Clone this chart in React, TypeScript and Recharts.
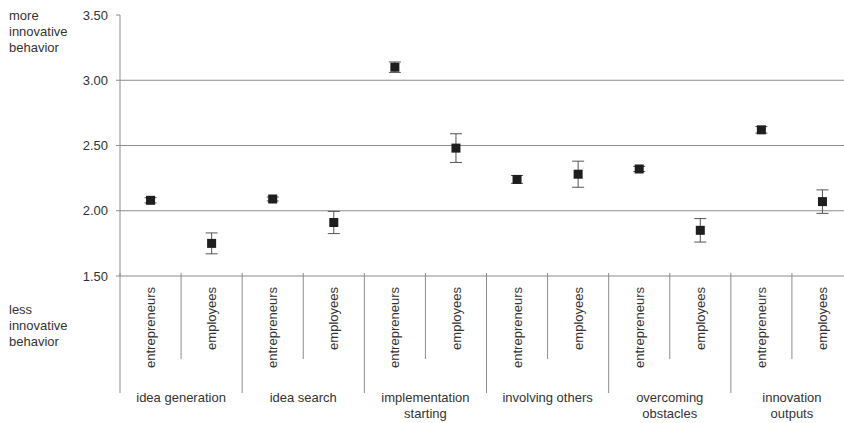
import { ComposedChart, Line, ErrorBar, XAxis, YAxis, ReferenceLine } from 'recharts';

const groups = [
  'idea generation',
  'idea search',
  'implementation\nstarting',
  'involving others',
  'overcoming\nobstacles',
  'innovation\noutputs',
];
const roles = ['entrepreneurs', 'employees'];

// means per group, entrepreneurs then employees
const means = [2.08, 1.75, 2.09, 1.91, 3.1, 2.48, 2.24, 2.28, 2.32, 1.85, 2.62, 2.07];
const errors = [0.02, 0.08, 0.015, 0.085, 0.04, 0.11, 0.03, 0.1, 0.02, 0.09, 0.025, 0.09];

const yTicks = [1.5, 2.0, 2.5, 3.0, 3.5];
const gridValues = [2.0, 2.5, 3.0];

const data = means.map((m, i) => ({
  id: `c${i}`,
  group: groups[Math.floor(i / 2)],
  role: roles[i % 2],
  mean: m,
  err: errors[i],
}));

const FONT = '"Liberation Sans", Arial, Helvetica, sans-serif';
const TEXT = '#333';
const LINE = '#8c8c8c';

const CategoryTick = (props: any) => {
  const { x, y, payload } = props;
  const i = payload.index;
  const half = payload.offset ?? 30.5;
  const left = x - half;
  const d = data[i];
  const first = i % 2 === 0;
  const lines = d.group.split('\n');
  return (
    <g>
      <line x1={left} y1={y - 3} x2={left} y2={y + (first ? 117 : 83)} stroke={LINE} strokeWidth={1} />
      <text
        x={x}
        y={y + 11}
        dy="0.35em"
        transform={`rotate(-90, ${x}, ${y + 11})`}
        textAnchor="end"
        fontSize={13}
        fontFamily={FONT}
        fill={TEXT}
      >
        {d.role}
      </text>
      {!first &&
        lines.map((ln, k) => (
          <text key={k} x={left} y={y + 126 + k * 16} textAnchor="middle" fontSize={13} fontFamily={FONT} fill={TEXT}>
            {ln}
          </text>
        ))}
    </g>
  );
};

const SquareDot = (props: any) => {
  const { cx, cy } = props;
  if (cx == null || cy == null) return null;
  return <rect x={cx - 4.5} y={cy - 4.5} width={9} height={9} fill="#1e1e1e" />;
};

const sideLabel = (top: number, lines: string[]) => (
  <div
    style={{
      position: 'absolute',
      left: 9,
      top,
      fontFamily: FONT,
      fontSize: 13,
      lineHeight: '16px',
      color: TEXT,
    }}
  >
    {lines.map((l) => (
      <div key={l}>{l}</div>
    ))}
  </div>
);

export default function App() {
  return (
    <div
      style={{
        position: 'absolute',
        left: 0,
        top: 0,
        width: 844,
        height: 423,
        overflow: 'hidden',
        background: '#fff',
      }}
    >
      <ComposedChart width={900} height={423} data={data} margin={{ top: 15, right: 47, bottom: 0, left: 0 }}>
        {gridValues.map((v) => (
          <ReferenceLine key={v} y={v} stroke={LINE} strokeWidth={1} />
        ))}
        <XAxis
          dataKey="id"
          type="category"
          scale="band"
          interval={0}
          height={147}
          tickSize={0}
          tickMargin={0}
          tickLine={false}
          axisLine={{ stroke: LINE, strokeWidth: 1 }}
          tick={<CategoryTick />}
        />
        <YAxis
          type="number"
          domain={[1.5, 3.5]}
          ticks={yTicks}
          width={120}
          tickSize={4}
          tickMargin={8}
          tickFormatter={(v: number) => v.toFixed(2)}
          tick={{ fontSize: 13, fontFamily: FONT, fill: TEXT }}
          axisLine={{ stroke: LINE, strokeWidth: 1 }}
          tickLine={{ stroke: LINE, strokeWidth: 1 }}
        />
        <Line
          dataKey="mean"
          stroke="none"
          dot={<SquareDot />}
          activeDot={false}
          isAnimationActive={false}
        >
          <ErrorBar dataKey="err" width={6} stroke="#555" strokeWidth={1} direction="y" />
        </Line>
      </ComposedChart>
      {sideLabel(8, ['more', 'innovative', 'behavior'])}
      {sideLabel(302, ['less', 'innovative', 'behavior'])}
    </div>
  );
}
